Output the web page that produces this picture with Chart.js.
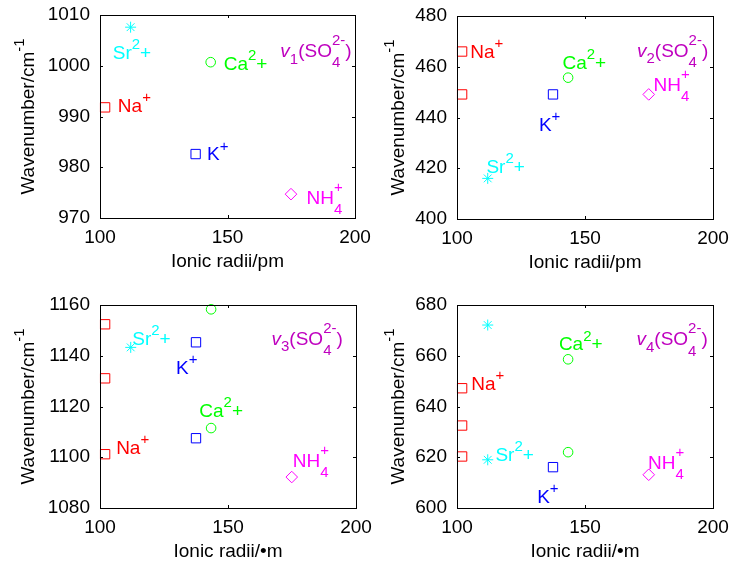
<!DOCTYPE html>
<html>
<head>
<meta charset="utf-8">
<script src="https://cdn.jsdelivr.net/npm/chart.js@4.4.1/dist/chart.umd.min.js"></script>
<style>
  html, body { margin: 0; padding: 0; background: #fff; }
  #wrap { position: relative; width: 729px; height: 563px; }
  #wrap canvas { position: absolute; left: 0; top: 0; }
</style>
</head>
<body>
<div id="wrap">
  <canvas id="p1" width="729" height="563"></canvas>
  <canvas id="p2" width="729" height="563"></canvas>
  <canvas id="p3" width="729" height="563"></canvas>
  <canvas id="p4" width="729" height="563"></canvas>
</div>
<script>
const FONT = '"Liberation Sans", Arial, Helvetica, sans-serif';

// ions, in the order used by every series below
const ionNames = ['Na', 'Sr', 'K', 'Ca', 'NH4'];
const ionColors = ['#ff0000', '#00ffff', '#0000ff', '#00ff00', '#ff00ff'];
const ionMarkers = ['rect', 'star', 'rect', 'circle', 'rectRot'];
const ionMarkerSize = [6.6, 5.5, 6.6, 4.8, 5.8];
const ionicRadii = [102, 112, 137.5, 143.4, 174.9];

// wavenumbers (cm-1) per ion, one array per band
const nu1 = [[991.8], [1007.6], [982.6], [1000.7], [974.7]];
const nu2 = [[466, 449.1], [416], [449.1], [455.7], [449.1]];
const nu3 = [[1152.4, 1131.1, 1101.2], [1143.3], [1145.3, 1107.5], [1158.3, 1111.5], [1092.2]];
const nu4 = [[647.2, 632.5, 620.3], [672.1, 619], [616.1], [658.6, 622], [613.1]];
const bands = [nu1, nu2, nu3, nu4];

// axes
const xTicks = [100, 150, 200];
const yMins = [970, 400, 1080, 600];
const yMaxs = [1010, 480, 1160, 680];
const ySteps = [10, 20, 20, 20];
const xTitles = ['Ionic radii/pm', 'Ionic radii/pm', 'Ionic radii/\u2022m', 'Ionic radii/\u2022m'];
const bandIndex = ['1', '2', '3', '4'];

// text annotations (data coords, left / middle)
const ionLabelPos = [
  [[107, 992.2], [105, 1002.7], [142, 982.7], [148.5, 1000.6], [181, 974.2]],
  [[105.2, 466], [111.5, 421], [132, 437.3], [141.2, 462], [176.8, 453.3]],
  [[106.3, 1104], [112.6, 1147], [129.7, 1135.6], [138.8, 1118.5], [175.3, 1098.9]],
  [[105.6, 649.3], [115, 621.1], [131.3, 604.7], [139.8, 664.8], [174.6, 618.1]]
];
const bandLabelPos = [[170.7, 1003.1], [170.3, 466.6], [167, 1147], [170.1, 666.9]];
const ionLabelParts = [
  [['Na'], ['+', 'sup']],
  [['Sr'], ['2', 'sup'], ['+']],
  [['K'], ['+', 'sup']],
  [['Ca'], ['2', 'sup'], ['+']],
  [['NH'], ['4', 'both', '+']]
];

// layout: plot area [left, top, right, bottom] in page pixels
const plotBoxes = [[100, 15, 355, 218], [457, 16, 713, 219], [100, 305, 356, 508], [457, 305, 713, 508]];
const yTitleGap = [72.5, 60, 72.5, 60];
const W = 729, H = 563, YW = 60, XH = 40;

function drawRich(ctx, parts, x, y, size, color, align) {
  const small = Math.round(size * 0.8);
  const base = y + size * 0.36;
  const items = [];
  let w = 0;
  const font = (s, it) => (it ? 'italic ' : '') + s + 'px ' + FONT;
  parts.forEach(p => {
    const t = p[0], kind = p[1];
    if (!kind || kind === 'it') {
      const f = font(size, kind === 'it');
      ctx.font = f;
      items.push({ t, f, dx: w, dy: 0 });
      w += ctx.measureText(t).width;
    } else if (kind === 'sup' || kind === 'sub') {
      const f = font(small);
      ctx.font = f;
      items.push({ t, f, dx: w, dy: kind === 'sup' ? -0.52 * size : 0.35 * size });
      w += ctx.measureText(t).width;
    } else if (kind === 'both') {
      const f = font(small);
      ctx.font = f;
      items.push({ t, f, dx: w, dy: 0.55 * size });
      items.push({ t: p[2], f, dx: w, dy: -0.62 * size });
      w += Math.max(ctx.measureText(t).width, ctx.measureText(p[2]).width);
    }
  });
  const x0 = align === 'center' ? x - w / 2 : x;
  ctx.fillStyle = color;
  ctx.textAlign = 'left';
  ctx.textBaseline = 'alphabetic';
  items.forEach(it => {
    ctx.font = it.f;
    ctx.fillText(it.t, x0 + it.dx, base + it.dy);
  });
}

const panelDecor = {
  id: 'panelDecor',
  afterDraw(chart) {
    const i = chart.options.plugins.panelDecor.index;
    const ctx = chart.ctx;
    const a = chart.chartArea;
    const sx = chart.scales.x, sy = chart.scales.y;
    ctx.save();
    ctx.strokeStyle = '#000';
    ctx.lineWidth = 1;
    ctx.strokeRect(Math.round(a.left) + 0.5, Math.round(a.top) + 0.5,
      Math.round(a.right - a.left), Math.round(a.bottom - a.top));
    ctx.beginPath();
    const tl = 3;
    sy.ticks.forEach(t => {
      const py = Math.round(sy.getPixelForValue(t.value)) + 0.5;
      ctx.moveTo(a.left, py); ctx.lineTo(a.left + tl, py);
      ctx.moveTo(a.right - tl, py); ctx.lineTo(a.right, py);
    });
    sx.ticks.forEach(t => {
      const px = Math.round(sx.getPixelForValue(t.value)) + 0.5;
      ctx.moveTo(px, a.top); ctx.lineTo(px, a.top + tl);
      ctx.moveTo(px, a.bottom - tl); ctx.lineTo(px, a.bottom);
    });
    ctx.stroke();

    // axis titles
    ctx.fillStyle = '#000';
    ctx.font = '19px ' + FONT;
    ctx.textAlign = 'center';
    ctx.textBaseline = 'middle';
    ctx.fillText(xTitles[i], (a.left + a.right) / 2, a.bottom + 44);
    ctx.save();
    ctx.translate(a.left - yTitleGap[i], (a.top + a.bottom) / 2);
    ctx.rotate(-Math.PI / 2);
    drawRich(ctx, [['Wavenumber/cm'], ['-1', 'sup']], 0, 0, 19, '#000', 'center');
    ctx.restore();

    // annotations
    ionLabelPos[i].forEach((pos, k) => {
      drawRich(ctx, ionLabelParts[k], sx.getPixelForValue(pos[0]), sy.getPixelForValue(pos[1]),
        19, ionColors[k], 'left');
    });
    const bp = bandLabelPos[i];
    drawRich(ctx, [['v', 'it'], [bandIndex[i], 'sub'], ['(SO'], ['4', 'both', '2-'], [')']],
      sx.getPixelForValue(bp[0]), sy.getPixelForValue(bp[1]), 19, '#bf00bf', 'left');
    ctx.restore();
  }
};

function makePanel(i) {
  const b = plotBoxes[i];
  const tickFont = { family: FONT, size: 19 };
  return new Chart(document.getElementById('p' + (i + 1)), {
    type: 'scatter',
    data: {
      datasets: ionNames.map((name, k) => ({
        label: name,
        data: bands[i][k].map(v => ({ x: ionicRadii[k], y: v })),
        pointStyle: ionMarkers[k],
        pointRadius: ionMarkerSize[k],
        pointBorderWidth: 1,
        borderColor: ionColors[k],
        backgroundColor: 'rgba(0,0,0,0)',
        clip: false
      }))
    },
    options: {
      responsive: false,
      animation: false,
      devicePixelRatio: 1,
      layout: { padding: { left: b[0] - YW, top: b[1], right: W - b[2], bottom: H - b[3] - XH } },
      plugins: {
        legend: { display: false },
        tooltip: { enabled: false },
        panelDecor: { index: i }
      },
      scales: {
        x: {
          type: 'linear',
          min: xTicks[0],
          max: xTicks[xTicks.length - 1],
          afterBuildTicks: s => { s.ticks = xTicks.map(v => ({ value: v })); },
          ticks: { font: tickFont, color: '#000', padding: 8, maxRotation: 0, autoSkip: false,
            callback: v => String(v) },
          grid: { display: false, drawTicks: false },
          border: { display: false },
          afterFit: s => { s.height = XH; s.paddingLeft = 0; s.paddingRight = 0; }
        },
        y: {
          min: yMins[i],
          max: yMaxs[i],
          ticks: { stepSize: ySteps[i], font: tickFont, color: '#000', padding: 10,
            callback: v => String(v) },
          grid: { display: false, drawTicks: false },
          border: { display: false },
          afterFit: s => { s.width = YW; s.paddingTop = 0; s.paddingBottom = 0; }
        }
      }
    },
    plugins: [panelDecor]
  });
}

[0, 1, 2, 3].forEach(makePanel);
</script>
</body>
</html>
